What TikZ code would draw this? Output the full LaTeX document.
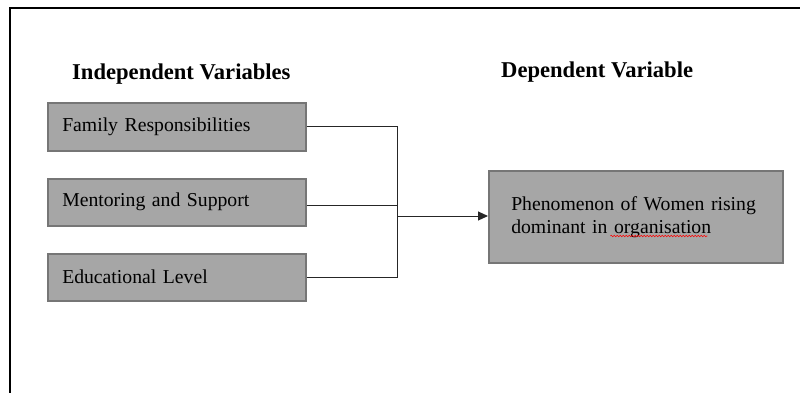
\documentclass[tikz,border=0pt]{standalone}
\usepackage{fontspec}
\setmainfont{Liberation Serif}
\usetikzlibrary{arrows.meta,decorations.pathmorphing,calc}
\definecolor{boxfill}{HTML}{A6A6A6}
\definecolor{boxedge}{HTML}{767676}
\newcommand{\boxfont}{\fontsize{19.7}{23}\selectfont}
\newlength{\ulstart}
\newlength{\ulend}
\begin{document}
\settowidth{\ulstart}{\boxfont dominant in\ }%
\settowidth{\ulend}{\boxfont dominant in organisation}%
\begin{tikzpicture}[x=1pt,y=-1pt,
  varbox/.style={draw=boxedge, fill=boxfill, line width=1.5pt, rectangle, anchor=north west,
    inner xsep=14pt, inner ysep=0pt, align=left, font=\boxfont},
  heading/.style={anchor=base west, inner sep=0pt, font=\fontsize{22.6}{26}\selectfont\bfseries},
  conn/.style={draw=black!85, line width=1pt}]
\useasboundingbox (0,0) rectangle (800,392);
\draw[line width=2pt] (10,400) |- (810,8);

\node[heading] (hind) at (72,79) {Independent Variables};
\node[heading] (hdep) at (501,77) {Dependent Variable};

\node[varbox, minimum width=258pt, minimum height=48pt, text width=229pt] (fam) at (47,102) {Family Responsibilities};
\node[varbox, minimum width=258pt, minimum height=47pt, text width=229pt] (men) at (47,178) {Mentoring and Support};
\node[varbox, minimum width=258pt, minimum height=47pt, text width=229pt] (edu) at (47,253) {Educational Level};

\node[varbox, inner xsep=22pt, minimum width=294pt, minimum height=92pt, text width=249pt] (dep) at (488,170)
  {Phenomenon of Women rising\\dominant in organisation};

\coordinate (jn) at (397,216);
\draw[conn] (fam.east) -| (jn);
\draw[conn] (edu.east) -| (jn);
\draw[conn] ([yshift=-3.5pt]men.east) -- ([yshift=-3.5pt]men.east -| jn);
\draw[conn, -{Triangle[length=10pt,width=9pt]}] (jn) -- (jn -| dep.west);

% spell-check wavy underline under "organisation"
\coordinate (ul) at ($(dep.north west)+(22.75pt+\ulstart,0)$);
\coordinate (ur) at ($(dep.north west)+(22.75pt+\ulend,0)$);
\draw[red, line width=0.6pt, decorate, decoration={snake, amplitude=0.7pt, segment length=3pt}]
  (ul |- 0,236) -- (ur |- 0,236);
\end{tikzpicture}
\end{document}
